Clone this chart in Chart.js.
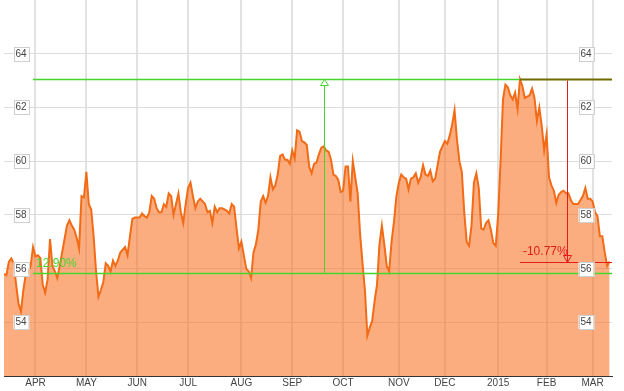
<!DOCTYPE html>
<html>
<head>
<meta charset="utf-8">
<script src="https://cdn.jsdelivr.net/npm/chart.js@4.4.1/dist/chart.umd.min.js"></script>
<style>
  html, body { margin: 0; padding: 0; background: #fff; }
  #wrap { width: 624px; height: 391px; }
</style>
</head>
<body>
<div id="wrap"><canvas id="price" width="624" height="391"></canvas></div>
<script>
// daily closes, one per trading day (Mar 2014 - Mar 2015)
const closes = [
  55.8, 55.75, 56.25, 56.38, 56.2, 55.4, 54.7, 54.4, 55.2, 55.8,
  55.85, 56.1, 56.8, 56.45, 56.5, 56.4, 55.4, 55.1, 55.6, 57.1,
  56.1, 55.9, 55.65, 56.1, 56.6, 57.1, 57.6, 57.8, 57.6, 57.45,
  57.15, 56.75, 58.7, 58.65, 59.6, 58.4, 58.2, 57.2, 55.9, 54.95,
  55.2, 55.5, 56.2, 56.1, 55.9, 56.3, 56.1, 56.3, 56.6, 56.7,
  56.8, 56.5, 57.2, 57.85, 57.9, 57.9, 57.9, 58.05, 57.95, 57.9,
  58.1, 58.7, 58.6, 58.25, 58.1, 58.1, 58.4, 58.3, 58.8, 58.7,
  58.0, 58.4, 58.8, 58.1, 57.7, 58.4, 59.0, 59.2, 58.7, 58.25,
  58.5, 58.6, 58.5, 58.4, 58.1, 58.15, 57.7, 58.3, 58.1, 58.25,
  58.25, 58.2, 58.15, 58.05, 58.4, 58.3, 57.5, 56.75, 57.0, 56.5,
  56.0, 55.9, 55.65, 56.6, 56.9, 57.45, 58.5, 58.7, 58.45, 58.7,
  59.4, 58.95, 59.1, 59.5, 60.2, 60.25, 60.05, 60.05, 59.9, 60.4,
  60.1, 61.15, 61.1, 60.75, 60.7, 60.6, 59.8, 59.55, 59.9, 59.95,
  60.25, 60.5, 60.55, 60.4, 60.35, 60.05, 59.5, 59.45, 59.3, 58.85,
  58.9, 59.8, 59.8, 58.5, 60.0, 59.4, 58.8, 57.3, 56.2, 55.2,
  53.5, 53.8, 54.05, 54.8, 55.4, 56.9, 57.6, 56.9, 56.1, 55.9,
  57.0, 57.75, 58.7, 59.2, 59.5, 59.4, 59.35, 58.95, 59.35, 59.4,
  59.55, 59.2, 59.4, 59.85, 59.5, 59.45, 59.65, 59.25, 59.35, 59.85,
  60.35, 60.55, 60.75, 60.65, 60.95, 61.35, 61.9, 60.8, 60.0, 59.6,
  58.1, 57.0, 56.85, 57.6, 59.2, 59.55, 59.0, 57.5, 57.45, 57.7,
  57.8, 57.45, 56.95, 56.85, 58.0, 60.0, 62.3, 62.85, 62.75, 62.45,
  62.3, 62.55, 61.95, 63.05, 62.8, 62.35, 62.4, 62.45, 62.7, 62.35,
  61.5, 62.0, 61.3, 60.4, 61.0, 59.4, 59.1, 58.9, 58.45, 58.75,
  58.85, 58.9, 58.8, 58.8, 58.55, 58.4, 58.4, 58.4, 58.55, 58.7,
  59.0, 58.6, 58.6, 58.5, 58.1, 57.95, 57.2, 57.2, 56.6, 56.1,
  56.26
];

// first trading day of each month (index into closes)
const monthStarts = [13, 34, 55, 76, 98, 119, 140, 163, 182, 204, 224, 243];
const monthLabels = ['APR', 'MAY', 'JUN', 'JUL', 'AUG', 'SEP', 'OCT', 'NOV', 'DEC', '2015', 'FEB', 'MAR'];
const yTicks = [54, 56, 58, 60, 62, 64];

// measurement annotations drawn on the chart
const gainFromDay = 12;
const gainMarkDay = 132;
const peakDay = 213;
const dropMarkDay = 232.5;
const lowLevel = 55.85;
const highLevel = 63.05;
const lastLevel = 56.26;
const gainLabel = '12.90%';
const dropLabel = '-10.77%';

const GREEN = '#44d62c';
const RED = '#e31b1b';
const OLIVE = '#6f6a00';

const annotations = {
  id: 'annotations',
  afterDatasetsDraw(chart) {
    const { ctx, chartArea: area, scales: { x, y } } = chart;
    const xFrom = x.getPixelForValue(gainFromDay);
    const xMid = Math.round(x.getPixelForValue(gainMarkDay)) + 0.5;
    const xPeak = x.getPixelForValue(peakDay);
    const xDrop = Math.round(x.getPixelForValue(dropMarkDay)) + 0.5;
    const yLow = Math.round(y.getPixelForValue(lowLevel)) + 0.5;
    const yHigh = Math.round(y.getPixelForValue(highLevel)) + 0.5;
    const yLast = Math.round(y.getPixelForValue(lastLevel)) + 0.5;
    const right = area.right;

    ctx.save();
    // green range lines
    ctx.strokeStyle = GREEN;
    ctx.lineWidth = 1.5;
    ctx.beginPath();
    ctx.moveTo(xFrom, yLow); ctx.lineTo(right, yLow);
    ctx.moveTo(xFrom, yHigh); ctx.lineTo(xPeak, yHigh);
    ctx.stroke();
    ctx.lineWidth = 1;
    ctx.beginPath();
    ctx.moveTo(xMid, yLow); ctx.lineTo(xMid, yHigh);
    ctx.stroke();
    // up arrow head
    ctx.fillStyle = '#fff';
    ctx.beginPath();
    ctx.moveTo(xMid, yHigh);
    ctx.lineTo(xMid - 4, yHigh + 6);
    ctx.lineTo(xMid + 4, yHigh + 6);
    ctx.closePath();
    ctx.fill(); ctx.stroke();

    // drop measurement
    ctx.strokeStyle = OLIVE;
    ctx.lineWidth = 2;
    ctx.beginPath();
    ctx.moveTo(xPeak, yHigh); ctx.lineTo(right, yHigh);
    ctx.stroke();
    ctx.strokeStyle = RED;
    ctx.lineWidth = 1.2;
    ctx.beginPath();
    ctx.moveTo(xPeak, yLast); ctx.lineTo(right, yLast);
    ctx.stroke();
    ctx.lineWidth = 1;
    ctx.beginPath();
    ctx.moveTo(xDrop, yHigh + 1); ctx.lineTo(xDrop, yLast);
    ctx.stroke();
    ctx.beginPath();
    ctx.moveTo(xDrop, yLast);
    ctx.lineTo(xDrop - 4, yLast - 7);
    ctx.lineTo(xDrop + 4, yLast - 7);
    ctx.closePath();
    ctx.stroke();

    ctx.font = '12px "Liberation Sans", Arial, sans-serif';
    ctx.textBaseline = 'bottom';
    ctx.textAlign = 'left';
    ctx.fillStyle = GREEN;
    ctx.fillText(gainLabel, xFrom + 3, yLow - 4);
    ctx.fillStyle = RED;
    ctx.fillText(dropLabel, xPeak + 3, yLast - 5);

    // boxed value labels on both sides
    ctx.font = '10px "Liberation Sans", Arial, sans-serif';
    ctx.textAlign = 'center';
    ctx.textBaseline = 'middle';
    yTicks.forEach(v => {
      const py = Math.round(y.getPixelForValue(v));
      [area.left + 17, area.right - 26].forEach(cx => {
        ctx.fillStyle = '#fff';
        ctx.fillRect(cx - 7.5, py - 7, 15, 14);
        ctx.strokeStyle = '#cfcfcf';
        ctx.lineWidth = 1;
        ctx.strokeRect(Math.round(cx - 7.5) + 0.5, py - 6.5, 15, 14);
        ctx.fillStyle = '#444';
        ctx.fillText(String(v), cx, py + 0.5);
      });
    });
    ctx.restore();
  }
};

new Chart(document.getElementById('price'), {
  type: 'line',
  data: {
    datasets: [{
      data: closes.map((v, i) => ({ x: i, y: v })),
      borderColor: '#f26b16',
      borderWidth: 2,
      backgroundColor: 'rgba(250,110,30,0.57)',
      fill: 'start',
      pointRadius: 0,
      tension: 0
    }]
  },
  options: {
    responsive: false,
    animation: false,
    layout: { padding: { left: 4, right: 12, top: 0, bottom: 1 } },
    plugins: { legend: { display: false }, tooltip: { enabled: false } },
    scales: {
      x: {
        type: 'linear',
        min: 0,
        max: 251,
        afterBuildTicks: scale => { scale.ticks = monthStarts.map(v => ({ value: v })); },
        ticks: {
          autoSkip: false,
          maxRotation: 0,
          padding: 1,
          color: '#444',
          font: { family: '"Liberation Sans", Arial, sans-serif', size: 10 },
          callback: v => monthLabels[monthStarts.indexOf(v)]
        },
        grid: { color: '#e2e2e2', lineWidth: 2, drawTicks: false },
        border: { color: '#333', width: 1 }
      },
      y: {
        min: 52,
        max: 66,
        afterBuildTicks: scale => { scale.ticks = [52, 54, 56, 58, 60, 62, 64, 66].map(v => ({ value: v })); },
        ticks: { display: false },
        grid: {
          drawTicks: false,
          lineWidth: 1,
          color: c => yTicks.includes(c.tick.value) ? '#dcdcdc' : 'rgba(0,0,0,0)'
        },
        border: { display: false }
      }
    }
  },
  plugins: [annotations]
});
</script>
</body>
</html>
